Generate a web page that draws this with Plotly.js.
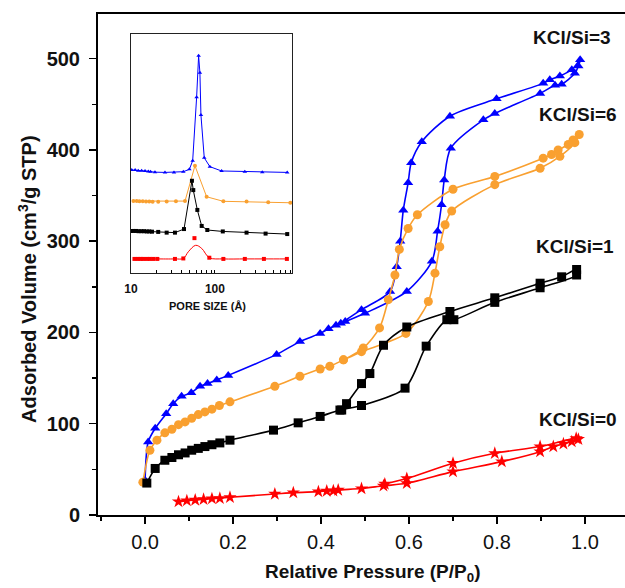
<!DOCTYPE html>
<html><head><meta charset="utf-8">
<script src="https://cdn.plot.ly/plotly-3.0.1.min.js"></script>
<style>body{margin:0;background:#fff}#chart{width:625px;height:588px}</style>
</head><body><div id="chart"></div>
<script>
// ---- main isotherms: adsorption (a) and desorption (d) branches ----
const s3_ax = [0.0,0.007,0.023,0.048,0.064,0.083,0.105,0.125,0.142,0.163,0.189,0.299,0.352,0.398,0.417,0.434,0.455,0.50,0.595,0.652,0.665,0.674,0.680,0.695,0.769,0.795,0.898,0.932,0.947,0.977,0.985];
const s3_ay = [38,80,95,111,122,130,134,141,144,148,153,176,190,199,204,208,212,221,245,278,311,340,367,402,433,440,462,471,472,484,492];
const s3_dx = [0.989,0.97,0.943,0.920,0.905,0.799,0.693,0.629,0.605,0.598,0.587,0.58,0.572,0.557,0.492,0.445];
const s3_dy = [499,488,481,477,473,456,437,409,386,364,334,300,272,245,225,210];

const s6_ax = [-0.005,0.011,0.027,0.045,0.061,0.076,0.091,0.106,0.121,0.136,0.152,0.169,0.193,0.295,0.352,0.398,0.42,0.451,0.492,0.593,0.644,0.659,0.670,0.682,0.697,0.795,0.898,0.943,0.977];
const s6_ay = [36,71,82,90,94,99,102,106,110,113,116,120,124,141,152,160,163,170,179,199,234,265,294,318,333,362,380,393,408];
const s6_dx = [0.987,0.973,0.962,0.939,0.924,0.905,0.795,0.70,0.619,0.598,0.578,0.568,0.553,0.533,0.496,0.451];
const s6_dy = [417,411,406,400,395,391,371,357,329,314,291,263,236,205,183,170];

const s1_ax = [0.004,0.023,0.045,0.061,0.076,0.091,0.106,0.121,0.136,0.152,0.170,0.193,0.292,0.348,0.398,0.443,0.492,0.591,0.639,0.686,0.702,0.795,0.898,0.981];
const s1_ay = [35,51,60,63,66,68,71,73,75,77,79,82,93,101,108,115,120,139,185,214,214,233,249,263];
const s1_dx = [0.981,0.947,0.898,0.795,0.693,0.595,0.542,0.511,0.492,0.458,0.447];
const s1_dy = [269,261,254,238,223,206,186,155,144,122,115];

const s0_ax = [0.076,0.095,0.114,0.133,0.152,0.170,0.193,0.295,0.337,0.394,0.413,0.428,0.439,0.492,0.542,0.595,0.70,0.811,0.898,0.928,0.951,0.97,0.985];
const s0_ay = [14.6,15.7,16.4,17.2,17.9,18.3,19.4,23,24.5,25.6,26.3,26.6,27.4,29,32,34.7,47.5,58.5,69.4,75,78,80.4,83];
const s0_dx = [0.98,0.898,0.795,0.70,0.595,0.545];
const s0_dy = [84,75,67.6,56.7,40,34];

const seriesNames = ["KCl/Si=3","KCl/Si=6","KCl/Si=1","KCl/Si=0"];
const xTickVals = [0,0.2,0.4,0.6,0.8,1.0];
const xTickText = ["0.0","0.2","0.4","0.6","0.8","1.0"];
const yTickVals = [0,100,200,300,400,500];

// ---- inset: pore size distribution (arbitrary units, offset) ----
const in3_x = [10.2,11.2,12.2,13.4,14.7,16.1,17.1,19.3,25.4,32.5,42,49.6,54.3,60.5,63.9,66.2,68.1,74.6,87,120,227,366,726];
const in3_y = [43.1,43.1,42.8,42.8,42.7,42.5,42.4,42.2,42.1,42.1,42.4,43.4,47.0,73.5,90.9,83.8,66.1,48.2,44.5,42.7,42.4,42.2,42.1];
const in6_x = [10.7,11.7,12.6,13.8,15.1,16.5,18.1,21.1,26.6,34.3,44,57.8,79.6,126,238,431,790];
const in6_y = [30.1,30.1,30.0,30.0,29.9,29.9,29.8,29.8,29.9,30.0,30.1,44.9,31.9,30.0,29.9,29.6,29.4];
const in1_x = [10,10.7,11.5,12.3,13.3,14.3,15.4,16.5,17.8,21.1,26.6,33.4,42.8,53.2,55.2,61.7,69.5,81.1,124,238,401,726];
const in1_y = [17.6,17.6,17.6,17.5,17.5,17.5,17.4,17.4,17.3,17.2,16.9,16.9,18.4,38.6,34.7,26.4,19.7,18.0,17.4,16.9,16.5,16.3];
const in0_x = [11,12,13,14,15.4,16.8,18.5,20.6,33.4,42,48.2,58.9,69.5,85.7,126,227,383,719];
const in0_y = [5.9,5.9,5.9,5.9,5.9,5.9,5.9,5.9,5.9,6.1,8.9,11.6,10.3,6.4,5.9,5.9,5.9,5.9];
const in0_dot_x = [57];
const in0_dot_y = [14.6];

const inTicks = [10,20,30,40,50,60,70,80,90,100,200,300,400,500,600,700,800];
const inTickText = ["10","","","","","","","","","100","","","","","","",""];

const FONT = "Arial, 'Liberation Sans', sans-serif";
const colors = ["#0000ff","#f9a030","#000000","#ff0000"];
const symbols = ["triangle-up","circle","square","star"];
const main = [[s3_ax,s3_ay,s3_dx,s3_dy],[s6_ax,s6_ay,s6_dx,s6_dy],[s1_ax,s1_ay,s1_dx,s1_dy],[s0_ax,s0_ay,s0_dx,s0_dy]];

const traces = [];
main.forEach((s,i)=>{
  traces.push({x:s[0].concat(s[2]), y:s[1].concat(s[3]), type:"scatter", mode:"lines+markers",
    name:seriesNames[i], line:{color:colors[i], width:1.6, shape:"spline", smoothing:0.8},
    marker:{color:colors[i], symbol:symbols[i], size:i===3?10:9}, xaxis:"x", yaxis:"y"});
});
const insets = [[in3_x,in3_y,"triangle-up"],[in6_x,in6_y,"circle"],[in1_x,in1_y,"square"]];
insets.forEach((s,i)=>{
  traces.push({x:s[0], y:s[1], type:"scatter", mode:"lines+markers", line:{color:colors[i], width:1},
    marker:{color:colors[i], symbol:s[2], size:4}, xaxis:"x2", yaxis:"y2"});
});
traces.push({x:in0_x, y:in0_y, type:"scatter", mode:"lines", line:{color:colors[3], width:1, shape:"spline"}, xaxis:"x2", yaxis:"y2"});
traces.push({x:in0_x.filter((v,k)=>in0_y[k]<7), y:in0_y.filter(v=>v<7), type:"scatter", mode:"markers",
  marker:{color:colors[3], symbol:"square", size:4}, xaxis:"x2", yaxis:"y2"});
traces.push({x:in0_dot_x, y:in0_dot_y, type:"scatter", mode:"markers", marker:{color:colors[3], symbol:"square", size:4}, xaxis:"x2", yaxis:"y2"});

const labelPos = [[0.899,0.954],[0.911,0.800],[0.905,0.535],[0.911,0.19]];
const annotations = seriesNames.map((n,i)=>({text:"<b>"+n+"</b>", xref:"paper", yref:"paper",
  x:labelPos[i][0], y:labelPos[i][1], showarrow:false, xanchor:"center", yanchor:"middle",
  font:{family:FONT, size:19, color:"#111"}}));
annotations.push({text:"<b>Adsorbed Volume (cm<sup>3</sup>/g STP)</b>", xref:"paper", yref:"paper", x:-0.135, y:0.471,
  textangle:-90, showarrow:false, xanchor:"center", yanchor:"middle", font:{family:FONT, size:20, color:"#111"}});
annotations.push({text:"<b>Relative Pressure (P/P<sub>0</sub>)</b>", xref:"paper", yref:"paper", x:0.52, y:-0.115,
  showarrow:false, xanchor:"center", yanchor:"middle", font:{family:FONT, size:19, color:"#111"}});
annotations.push({text:"<b>PORE SIZE (Å)</b>", xref:"paper", yref:"paper", x:0.207, y:0.417,
  showarrow:false, xanchor:"center", yanchor:"middle", font:{family:FONT, size:11, color:"#111"}});

const layout = {
  width:625, height:588, margin:{l:98, r:0, t:14, b:73},
  paper_bgcolor:"#fff", plot_bgcolor:"#fff", showlegend:false,
  xaxis:{range:[-0.107,1.091], tickvals:xTickVals, ticktext:xTickText, ticklabelstandoff:1,
    ticks:"outside", ticklen:7, tickwidth:1.5, tickcolor:"#000", showline:true, linewidth:2, linecolor:"#000", mirror:true,
    showgrid:false, zeroline:false, tickfont:{family:FONT, size:20, color:"#111"},
    minor:{dtick:0.1, tick0:0, ticks:"outside", ticklen:4, tickwidth:1.5, tickcolor:"#000"}},
  yaxis:{range:[0,549], tickvals:yTickVals, ticks:"outside", ticklen:7, tickwidth:1.5, tickcolor:"#000", ticklabelstandoff:5,
    showline:true, linewidth:2, linecolor:"#000", showgrid:false, zeroline:false,
    tickfont:{family:FONT, size:20, color:"#111", weight:"bold"},
    minor:{dtick:50, tick0:0, ticks:"outside", ticklen:4, tickwidth:1.5, tickcolor:"#000"}},
  xaxis2:{type:"log", domain:[0.0626,0.368], anchor:"y2", range:[1,2.917], tickvals:inTicks, ticktext:inTickText,
    ticks:"inside", ticklen:3, tickcolor:"#000", showline:true, linewidth:1.2, linecolor:"#222", mirror:true, ticklabelstandoff:4,
    showgrid:false, zeroline:false, tickfont:{family:FONT, size:12, color:"#111", weight:"bold"}},
  yaxis2:{domain:[0.483,0.96], anchor:"x2", range:[0,100], showticklabels:false, ticks:"", showline:true,
    linewidth:1.2, linecolor:"#222", mirror:true, showgrid:false, zeroline:false},
  annotations:annotations
};
Plotly.newPlot("chart", traces, layout, {displayModeBar:false, staticPlot:true});
</script></body></html>
